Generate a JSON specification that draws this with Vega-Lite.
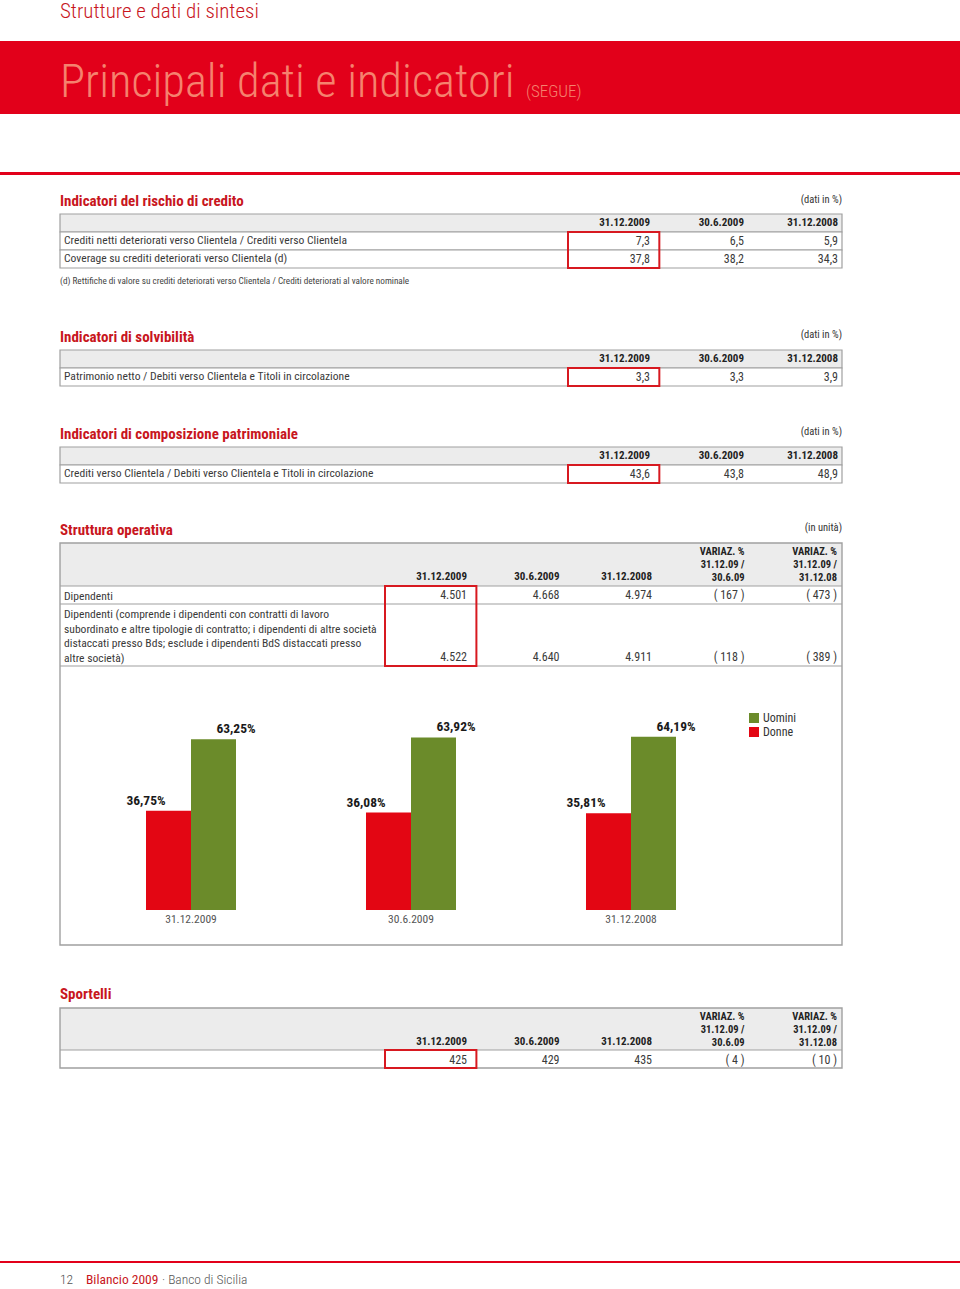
{
"$schema": "https://vega.github.io/schema/vega-lite/v6.json",
"width": 960, "height": 1289, "padding": 0,
"autosize": {"type": "none"},
"background": "#ffffff",
"config": {
  "view": {"stroke": null},
  "locale": {"number": {"decimal": ",", "thousands": ".", "grouping": [3], "currency": ["€", ""]}},
  "text": {"font": "Roboto Condensed", "color": "#333333"}
},
"resolve": {"scale": {"x": "independent", "y": "independent", "xOffset": "independent", "color": "independent"}},
"datasets": {
  "page": [
    {"part": "running", "text": "Strutture e dati di sintesi"},
    {"part": "title", "text": "Principali dati e indicatori"},
    {"part": "segue", "text": "(SEGUE)"},
    {"part": "folio", "text": "12"},
    {"part": "book", "text": "Bilancio 2009"},
    {"part": "publisher", "text": "· Banco di Sicilia"}
  ],
  "periods": [
    {"row": "header", "period": "31.12.2009"},
    {"row": "header", "period": "30.6.2009"},
    {"row": "header", "period": "31.12.2008"}
  ],
  "rischio": [
    {"kind": "title", "row": "title", "text": "Indicatori del rischio di credito"},
    {"kind": "unit", "row": "title", "text": "(dati in %)"},
    {"kind": "header", "row": "header", "text": ""},
    {"kind": "label", "row": "Crediti netti deteriorati verso Clientela / Crediti verso Clientela", "text": "Crediti netti deteriorati verso Clientela / Crediti verso Clientela"},
    {"kind": "label", "row": "Coverage su crediti deteriorati verso Clientela (d)", "text": "Coverage su crediti deteriorati verso Clientela (d)"},
    {"kind": "note", "row": "note", "text": "(d) Rettifiche di valore su crediti deteriorati verso Clientela / Crediti deteriorati al valore nominale"}
  ],
  "rischio_vals": [
    {"row": "Crediti netti deteriorati verso Clientela / Crediti verso Clientela", "period": "31.12.2009", "value": 7.3},
    {"row": "Crediti netti deteriorati verso Clientela / Crediti verso Clientela", "period": "30.6.2009", "value": 6.5},
    {"row": "Crediti netti deteriorati verso Clientela / Crediti verso Clientela", "period": "31.12.2008", "value": 5.9},
    {"row": "Coverage su crediti deteriorati verso Clientela (d)", "period": "31.12.2009", "value": 37.8},
    {"row": "Coverage su crediti deteriorati verso Clientela (d)", "period": "30.6.2009", "value": 38.2},
    {"row": "Coverage su crediti deteriorati verso Clientela (d)", "period": "31.12.2008", "value": 34.3}
  ],
  "solvibilita": [
    {"kind": "title", "row": "title", "text": "Indicatori di solvibilità"},
    {"kind": "unit", "row": "title", "text": "(dati in %)"},
    {"kind": "header", "row": "header", "text": ""},
    {"kind": "label", "row": "Patrimonio netto / Debiti verso Clientela e Titoli in circolazione", "text": "Patrimonio netto / Debiti verso Clientela e Titoli in circolazione"}
  ],
  "solvibilita_vals": [
    {"row": "Patrimonio netto / Debiti verso Clientela e Titoli in circolazione", "period": "31.12.2009", "value": 3.3},
    {"row": "Patrimonio netto / Debiti verso Clientela e Titoli in circolazione", "period": "30.6.2009", "value": 3.3},
    {"row": "Patrimonio netto / Debiti verso Clientela e Titoli in circolazione", "period": "31.12.2008", "value": 3.9}
  ],
  "composizione": [
    {"kind": "title", "row": "title", "text": "Indicatori di composizione patrimoniale"},
    {"kind": "unit", "row": "title", "text": "(dati in %)"},
    {"kind": "header", "row": "header", "text": ""},
    {"kind": "label", "row": "Crediti verso Clientela / Debiti verso Clientela e Titoli in circolazione", "text": "Crediti verso Clientela / Debiti verso Clientela e Titoli in circolazione"}
  ],
  "composizione_vals": [
    {"row": "Crediti verso Clientela / Debiti verso Clientela e Titoli in circolazione", "period": "31.12.2009", "value": 43.6},
    {"row": "Crediti verso Clientela / Debiti verso Clientela e Titoli in circolazione", "period": "30.6.2009", "value": 43.8},
    {"row": "Crediti verso Clientela / Debiti verso Clientela e Titoli in circolazione", "period": "31.12.2008", "value": 48.9}
  ],
  "cols5": [
    {"rowNo": 0, "col": "31.12.2009", "head": "31.12.2009"},
    {"rowNo": 0, "col": "30.6.2009", "head": "30.6.2009"},
    {"rowNo": 0, "col": "31.12.2008", "head": "31.12.2008"},
    {"rowNo": 0, "col": "var. 31.12.09 / 30.6.09", "head": "VARIAZ. %\n31.12.09 /\n30.6.09"},
    {"rowNo": 0, "col": "var. 31.12.09 / 31.12.08", "head": "VARIAZ. %\n31.12.09 /\n31.12.08"}
  ],
  "struttura": [
    {"kind": "title", "text": "Struttura operativa"},
    {"kind": "unit", "text": "(in unità)"},
    {"kind": "header", "rowNo": 0, "text": ""},
    {"kind": "label", "rowNo": 1, "text": "Dipendenti"},
    {"kind": "label", "rowNo": 2, "text": "Dipendenti (comprende i dipendenti con contratti di lavoro\nsubordinato e altre tipologie di contratto; i dipendenti di altre società\ndistaccati presso Bds; esclude i dipendenti BdS distaccati presso\naltre società)"}
  ],
  "struttura_vals": [
    {"rowNo": 1, "col": "31.12.2009", "value": 4501},
    {"rowNo": 1, "col": "30.6.2009", "value": 4668},
    {"rowNo": 1, "col": "31.12.2008", "value": 4974},
    {"rowNo": 1, "col": "var. 31.12.09 / 30.6.09", "value": -167},
    {"rowNo": 1, "col": "var. 31.12.09 / 31.12.08", "value": -473},
    {"rowNo": 2, "col": "31.12.2009", "value": 4522},
    {"rowNo": 2, "col": "30.6.2009", "value": 4640},
    {"rowNo": 2, "col": "31.12.2008", "value": 4911},
    {"rowNo": 2, "col": "var. 31.12.09 / 30.6.09", "value": -118},
    {"rowNo": 2, "col": "var. 31.12.09 / 31.12.08", "value": -389}
  ],
  "staff": [
    {"date": "31.12.2009", "gender": "Uomini", "share": 0.6325},
    {"date": "31.12.2009", "gender": "Donne", "share": 0.3675},
    {"date": "30.6.2009", "gender": "Uomini", "share": 0.6392},
    {"date": "30.6.2009", "gender": "Donne", "share": 0.3608},
    {"date": "31.12.2008", "gender": "Uomini", "share": 0.6419},
    {"date": "31.12.2008", "gender": "Donne", "share": 0.3581}
  ],
  "sportelli": [
    {"kind": "title", "text": "Sportelli"},
    {"kind": "header", "rowNo": 0, "text": ""}
  ],
  "sportelli_vals": [
    {"rowNo": 1, "col": "31.12.2009", "value": 425},
    {"rowNo": 1, "col": "30.6.2009", "value": 429},
    {"rowNo": 1, "col": "31.12.2008", "value": 435},
    {"rowNo": 1, "col": "var. 31.12.09 / 30.6.09", "value": -4},
    {"rowNo": 1, "col": "var. 31.12.09 / 31.12.08", "value": -10}
  ]
},
"layer": [
  {"data": {"name": "page"}, "transform": [{"filter": "datum.part === 'title'"}],
   "mark": {"type": "rect", "fill": "#e2001a"},
   "encoding": {
     "x": {"field": "part", "type": "nominal", "scale": {"type": "band", "range": [0, 960], "paddingInner": 0, "paddingOuter": 0}, "axis": null},
     "y": {"field": "part", "type": "nominal", "scale": {"type": "band", "range": [41, 114], "paddingInner": 0, "paddingOuter": 0}, "axis": null}}},
  {"data": {"name": "page"}, "transform": [{"filter": "datum.part === 'title'"}],
   "mark": {"type": "rect", "fill": "#e2001a"},
   "encoding": {
     "x": {"field": "part", "type": "nominal", "scale": {"type": "band", "range": [0, 960], "paddingInner": 0, "paddingOuter": 0}, "axis": null},
     "y": {"field": "part", "type": "nominal", "scale": {"type": "band", "range": [172, 175], "paddingInner": 0, "paddingOuter": 0}, "axis": null}}},
  {"data": {"name": "page"}, "transform": [{"filter": "datum.part === 'folio'"}],
   "mark": {"type": "rect", "fill": "#e2001a"},
   "encoding": {
     "x": {"field": "part", "type": "nominal", "scale": {"type": "band", "range": [0, 960], "paddingInner": 0, "paddingOuter": 0}, "axis": null},
     "y": {"field": "part", "type": "nominal", "scale": {"type": "band", "range": [1261, 1263], "paddingInner": 0, "paddingOuter": 0}, "axis": null}}},
  {"data": {"name": "page"}, "transform": [{"filter": "datum.part === 'running'"}],
   "mark": {"type": "text", "align": "left", "baseline": "alphabetic", "fontSize": 21, "fontWeight": 300, "color": "#c8161d", "font": "Roboto Condensed"},
   "encoding": {
     "text": {"field": "text"},
     "x": {"field": "part", "type": "nominal", "bandPosition": 0, "scale": {"type": "band", "range": [60, 960], "paddingInner": 0, "paddingOuter": 0}, "axis": null},
     "y": {"field": "part", "type": "nominal", "bandPosition": 0.44, "scale": {"type": "band", "range": [0, 41], "paddingInner": 0, "paddingOuter": 0}, "axis": null}}},
  {"data": {"name": "page"}, "transform": [{"filter": "datum.part === 'title'"}],
   "mark": {"type": "text", "align": "left", "baseline": "alphabetic", "fontSize": 46.5, "fontWeight": 300, "color": "#f5826e", "font": "Roboto Condensed"},
   "encoding": {
     "text": {"field": "text"},
     "x": {"field": "part", "type": "nominal", "bandPosition": 0, "scale": {"type": "band", "range": [60, 960], "paddingInner": 0, "paddingOuter": 0}, "axis": null},
     "y": {"field": "part", "type": "nominal", "bandPosition": 0.767, "scale": {"type": "band", "range": [41, 114], "paddingInner": 0, "paddingOuter": 0}, "axis": null}}},
  {"data": {"name": "page"}, "transform": [{"filter": "datum.part === 'segue'"}],
   "mark": {"type": "text", "align": "left", "baseline": "alphabetic", "fontSize": 17, "fontWeight": 300, "color": "#f5826e", "font": "Roboto Condensed"},
   "encoding": {
     "text": {"field": "text"},
     "x": {"field": "part", "type": "nominal", "bandPosition": 0, "scale": {"type": "band", "range": [526, 960], "paddingInner": 0, "paddingOuter": 0}, "axis": null},
     "y": {"field": "part", "type": "nominal", "bandPosition": 0.767, "scale": {"type": "band", "range": [41, 114], "paddingInner": 0, "paddingOuter": 0}, "axis": null}}},
  {"data": {"name": "page"}, "transform": [{"filter": "datum.part === 'folio'"}],
   "mark": {"type": "text", "align": "left", "baseline": "middle", "fontSize": 13.5, "fontWeight": 300, "color": "#555555", "font": "Roboto Condensed"},
   "encoding": {
     "text": {"field": "text"},
     "x": {"field": "part", "type": "nominal", "bandPosition": 0, "scale": {"type": "band", "range": [60, 960], "paddingInner": 0, "paddingOuter": 0}, "axis": null},
     "y": {"field": "part", "type": "nominal", "bandPosition": 0.5, "scale": {"type": "band", "range": [1270, 1289], "paddingInner": 0, "paddingOuter": 0}, "axis": null}}},
  {"data": {"name": "page"}, "transform": [{"filter": "datum.part === 'book'"}],
   "mark": {"type": "text", "align": "left", "baseline": "middle", "fontSize": 13.5, "fontWeight": 400, "color": "#c8161d", "font": "Roboto Condensed"},
   "encoding": {
     "text": {"field": "text"},
     "x": {"field": "part", "type": "nominal", "bandPosition": 0, "scale": {"type": "band", "range": [86, 960], "paddingInner": 0, "paddingOuter": 0}, "axis": null},
     "y": {"field": "part", "type": "nominal", "bandPosition": 0.5, "scale": {"type": "band", "range": [1270, 1289], "paddingInner": 0, "paddingOuter": 0}, "axis": null}}},
  {"data": {"name": "page"}, "transform": [{"filter": "datum.part === 'publisher'"}],
   "mark": {"type": "text", "align": "left", "baseline": "middle", "fontSize": 13.5, "fontWeight": 300, "color": "#555555", "font": "Roboto Condensed"},
   "encoding": {
     "text": {"field": "text"},
     "x": {"field": "part", "type": "nominal", "bandPosition": 0, "scale": {"type": "band", "range": [162, 960], "paddingInner": 0, "paddingOuter": 0}, "axis": null},
     "y": {"field": "part", "type": "nominal", "bandPosition": 0.5, "scale": {"type": "band", "range": [1270, 1289], "paddingInner": 0, "paddingOuter": 0}, "axis": null}}},

  {"data": {"name": "rischio"}, "transform": [{"filter": "datum.kind === 'header' || datum.kind === 'label'"}],
   "mark": {"type": "rect", "stroke": "#a0a0a0", "strokeWidth": 1.2},
   "encoding": {
     "x": {"datum": 0, "type": "quantitative", "scale": {"domain": [0, 1], "range": [60, 842], "zero": false, "nice": false}, "axis": null},
     "x2": {"datum": 1},
     "y": {"field": "row", "type": "nominal", "scale": {"type": "band", "domain": ["title", "header", "Crediti netti deteriorati verso Clientela / Crediti verso Clientela", "Coverage su crediti deteriorati verso Clientela (d)", "note"], "range": [196, 286], "paddingInner": 0, "paddingOuter": 0}, "axis": null},
     "fill": {"condition": {"test": "datum.kind === 'header'", "value": "#ececec"}, "value": "#ffffff"}}},
  {"data": {"name": "rischio_vals"}, "transform": [{"filter": "datum.period === '31.12.2009'"}, {"aggregate": [{"op": "count", "as": "n"}], "groupby": ["period"]}],
   "mark": {"type": "rect", "fill": "#ffffff", "fillOpacity": 0, "stroke": "#d71920", "strokeWidth": 2},
   "encoding": {
     "x": {"field": "period", "type": "nominal", "scale": {"type": "band", "domain": ["31.12.2009", "30.6.2009", "31.12.2008"], "range": [568, 842], "paddingInner": 0, "paddingOuter": 0}, "axis": null},
     "y": {"field": "period", "type": "nominal", "scale": {"type": "band", "range": [232, 268], "paddingInner": 0, "paddingOuter": 0}, "axis": null}}},
  {"data": {"name": "rischio"}, "transform": [{"filter": "datum.kind === 'title'"}],
   "mark": {"type": "text", "align": "left", "baseline": "middle", "fontSize": 15, "fontWeight": "bold", "color": "#c8161d", "font": "Roboto Condensed"},
   "encoding": {
     "text": {"field": "text"},
     "x": {"datum": 0, "type": "quantitative", "scale": {"domain": [0, 1], "range": [60, 842], "zero": false, "nice": false}, "axis": null},
     "y": {"field": "row", "type": "nominal", "bandPosition": 0.25, "scale": {"type": "band", "domain": ["title", "header", "Crediti netti deteriorati verso Clientela / Crediti verso Clientela", "Coverage su crediti deteriorati verso Clientela (d)", "note"], "range": [196, 286], "paddingInner": 0, "paddingOuter": 0}, "axis": null}}},
  {"data": {"name": "rischio"}, "transform": [{"filter": "datum.kind === 'unit'"}],
   "mark": {"type": "text", "align": "right", "baseline": "middle", "fontSize": 10.5, "color": "#333333", "font": "Roboto Condensed"},
   "encoding": {
     "text": {"field": "text"},
     "x": {"datum": 1, "type": "quantitative", "scale": {"domain": [0, 1], "range": [60, 842], "zero": false, "nice": false}, "axis": null},
     "y": {"field": "row", "type": "nominal", "bandPosition": 0.2, "scale": {"type": "band", "domain": ["title", "header", "Crediti netti deteriorati verso Clientela / Crediti verso Clientela", "Coverage su crediti deteriorati verso Clientela (d)", "note"], "range": [196, 286], "paddingInner": 0, "paddingOuter": 0}, "axis": null}}},
  {"data": {"name": "rischio"}, "transform": [{"filter": "datum.kind === 'label'"}],
   "mark": {"type": "text", "align": "left", "baseline": "middle", "dx": 4, "fontSize": 11.6, "color": "#3a3a3a", "font": "Roboto Condensed"},
   "encoding": {
     "text": {"field": "text"},
     "x": {"datum": 0, "type": "quantitative", "scale": {"domain": [0, 1], "range": [60, 842], "zero": false, "nice": false}, "axis": null},
     "y": {"field": "row", "type": "nominal", "bandPosition": 0.5, "scale": {"type": "band", "domain": ["title", "header", "Crediti netti deteriorati verso Clientela / Crediti verso Clientela", "Coverage su crediti deteriorati verso Clientela (d)", "note"], "range": [196, 286], "paddingInner": 0, "paddingOuter": 0}, "axis": null}}},
  {"data": {"name": "rischio"}, "transform": [{"filter": "datum.kind === 'note'"}],
   "mark": {"type": "text", "align": "left", "baseline": "middle", "fontSize": 9.2, "color": "#444444", "font": "Roboto Condensed"},
   "encoding": {
     "text": {"field": "text"},
     "x": {"datum": 0, "type": "quantitative", "scale": {"domain": [0, 1], "range": [60, 842], "zero": false, "nice": false}, "axis": null},
     "y": {"field": "row", "type": "nominal", "bandPosition": 0.7, "scale": {"type": "band", "domain": ["title", "header", "Crediti netti deteriorati verso Clientela / Crediti verso Clientela", "Coverage su crediti deteriorati verso Clientela (d)", "note"], "range": [196, 286], "paddingInner": 0, "paddingOuter": 0}, "axis": null}}},
  {"data": {"name": "periods"},
   "mark": {"type": "text", "align": "right", "baseline": "middle", "fontSize": 11, "fontWeight": "bold", "color": "#222222", "font": "Roboto Condensed"},
   "encoding": {
     "text": {"field": "period"},
     "x": {"field": "period", "type": "nominal", "scale": {"type": "point", "domain": ["31.12.2009", "30.6.2009", "31.12.2008"], "range": [650, 838], "padding": 0}, "axis": null},
     "y": {"field": "row", "type": "nominal", "bandPosition": 0.5, "scale": {"type": "band", "domain": ["title", "header", "Crediti netti deteriorati verso Clientela / Crediti verso Clientela", "Coverage su crediti deteriorati verso Clientela (d)", "note"], "range": [196, 286], "paddingInner": 0, "paddingOuter": 0}, "axis": null}}},
  {"data": {"name": "rischio_vals"},
   "mark": {"type": "text", "align": "right", "baseline": "middle", "fontSize": 12, "color": "#3a3a3a", "font": "Roboto Condensed"},
   "encoding": {
     "text": {"field": "value", "type": "quantitative", "format": ".1f"},
     "x": {"field": "period", "type": "nominal", "scale": {"type": "point", "domain": ["31.12.2009", "30.6.2009", "31.12.2008"], "range": [650, 838], "padding": 0}, "axis": null},
     "y": {"field": "row", "type": "nominal", "bandPosition": 0.5, "scale": {"type": "band", "domain": ["title", "header", "Crediti netti deteriorati verso Clientela / Crediti verso Clientela", "Coverage su crediti deteriorati verso Clientela (d)", "note"], "range": [196, 286], "paddingInner": 0, "paddingOuter": 0}, "axis": null}}},

  {"data": {"name": "solvibilita"}, "transform": [{"filter": "datum.kind === 'header' || datum.kind === 'label'"}],
   "mark": {"type": "rect", "stroke": "#a0a0a0", "strokeWidth": 1.2},
   "encoding": {
     "x": {"datum": 0, "type": "quantitative", "scale": {"domain": [0, 1], "range": [60, 842], "zero": false, "nice": false}, "axis": null},
     "x2": {"datum": 1},
     "y": {"field": "row", "type": "nominal", "scale": {"type": "band", "domain": ["title", "header", "Patrimonio netto / Debiti verso Clientela e Titoli in circolazione"], "range": [332, 386], "paddingInner": 0, "paddingOuter": 0}, "axis": null},
     "fill": {"condition": {"test": "datum.kind === 'header'", "value": "#ececec"}, "value": "#ffffff"}}},
  {"data": {"name": "solvibilita_vals"}, "transform": [{"filter": "datum.period === '31.12.2009'"}, {"aggregate": [{"op": "count", "as": "n"}], "groupby": ["period"]}],
   "mark": {"type": "rect", "fill": "#ffffff", "fillOpacity": 0, "stroke": "#d71920", "strokeWidth": 2},
   "encoding": {
     "x": {"field": "period", "type": "nominal", "scale": {"type": "band", "domain": ["31.12.2009", "30.6.2009", "31.12.2008"], "range": [568, 842], "paddingInner": 0, "paddingOuter": 0}, "axis": null},
     "y": {"field": "period", "type": "nominal", "scale": {"type": "band", "range": [368, 386], "paddingInner": 0, "paddingOuter": 0}, "axis": null}}},
  {"data": {"name": "solvibilita"}, "transform": [{"filter": "datum.kind === 'title'"}],
   "mark": {"type": "text", "align": "left", "baseline": "middle", "fontSize": 15, "fontWeight": "bold", "color": "#c8161d", "font": "Roboto Condensed"},
   "encoding": {
     "text": {"field": "text"},
     "x": {"datum": 0, "type": "quantitative", "scale": {"domain": [0, 1], "range": [60, 842], "zero": false, "nice": false}, "axis": null},
     "y": {"field": "row", "type": "nominal", "bandPosition": 0.25, "scale": {"type": "band", "domain": ["title", "header", "Patrimonio netto / Debiti verso Clientela e Titoli in circolazione"], "range": [332, 386], "paddingInner": 0, "paddingOuter": 0}, "axis": null}}},
  {"data": {"name": "solvibilita"}, "transform": [{"filter": "datum.kind === 'unit'"}],
   "mark": {"type": "text", "align": "right", "baseline": "middle", "fontSize": 10.5, "color": "#333333", "font": "Roboto Condensed"},
   "encoding": {
     "text": {"field": "text"},
     "x": {"datum": 1, "type": "quantitative", "scale": {"domain": [0, 1], "range": [60, 842], "zero": false, "nice": false}, "axis": null},
     "y": {"field": "row", "type": "nominal", "bandPosition": 0.15, "scale": {"type": "band", "domain": ["title", "header", "Patrimonio netto / Debiti verso Clientela e Titoli in circolazione"], "range": [332, 386], "paddingInner": 0, "paddingOuter": 0}, "axis": null}}},
  {"data": {"name": "solvibilita"}, "transform": [{"filter": "datum.kind === 'label'"}],
   "mark": {"type": "text", "align": "left", "baseline": "middle", "dx": 4, "fontSize": 11.6, "color": "#3a3a3a", "font": "Roboto Condensed"},
   "encoding": {
     "text": {"field": "text"},
     "x": {"datum": 0, "type": "quantitative", "scale": {"domain": [0, 1], "range": [60, 842], "zero": false, "nice": false}, "axis": null},
     "y": {"field": "row", "type": "nominal", "bandPosition": 0.5, "scale": {"type": "band", "domain": ["title", "header", "Patrimonio netto / Debiti verso Clientela e Titoli in circolazione"], "range": [332, 386], "paddingInner": 0, "paddingOuter": 0}, "axis": null}}},
  {"data": {"name": "periods"},
   "mark": {"type": "text", "align": "right", "baseline": "middle", "fontSize": 11, "fontWeight": "bold", "color": "#222222", "font": "Roboto Condensed"},
   "encoding": {
     "text": {"field": "period"},
     "x": {"field": "period", "type": "nominal", "scale": {"type": "point", "domain": ["31.12.2009", "30.6.2009", "31.12.2008"], "range": [650, 838], "padding": 0}, "axis": null},
     "y": {"field": "row", "type": "nominal", "bandPosition": 0.5, "scale": {"type": "band", "domain": ["title", "header", "Patrimonio netto / Debiti verso Clientela e Titoli in circolazione"], "range": [332, 386], "paddingInner": 0, "paddingOuter": 0}, "axis": null}}},
  {"data": {"name": "solvibilita_vals"},
   "mark": {"type": "text", "align": "right", "baseline": "middle", "fontSize": 12, "color": "#3a3a3a", "font": "Roboto Condensed"},
   "encoding": {
     "text": {"field": "value", "type": "quantitative", "format": ".1f"},
     "x": {"field": "period", "type": "nominal", "scale": {"type": "point", "domain": ["31.12.2009", "30.6.2009", "31.12.2008"], "range": [650, 838], "padding": 0}, "axis": null},
     "y": {"field": "row", "type": "nominal", "bandPosition": 0.5, "scale": {"type": "band", "domain": ["title", "header", "Patrimonio netto / Debiti verso Clientela e Titoli in circolazione"], "range": [332, 386], "paddingInner": 0, "paddingOuter": 0}, "axis": null}}},

  {"data": {"name": "composizione"}, "transform": [{"filter": "datum.kind === 'header' || datum.kind === 'label'"}],
   "mark": {"type": "rect", "stroke": "#a0a0a0", "strokeWidth": 1.2},
   "encoding": {
     "x": {"datum": 0, "type": "quantitative", "scale": {"domain": [0, 1], "range": [60, 842], "zero": false, "nice": false}, "axis": null},
     "x2": {"datum": 1},
     "y": {"field": "row", "type": "nominal", "scale": {"type": "band", "domain": ["title", "header", "Crediti verso Clientela / Debiti verso Clientela e Titoli in circolazione"], "range": [429, 483], "paddingInner": 0, "paddingOuter": 0}, "axis": null},
     "fill": {"condition": {"test": "datum.kind === 'header'", "value": "#ececec"}, "value": "#ffffff"}}},
  {"data": {"name": "composizione_vals"}, "transform": [{"filter": "datum.period === '31.12.2009'"}, {"aggregate": [{"op": "count", "as": "n"}], "groupby": ["period"]}],
   "mark": {"type": "rect", "fill": "#ffffff", "fillOpacity": 0, "stroke": "#d71920", "strokeWidth": 2},
   "encoding": {
     "x": {"field": "period", "type": "nominal", "scale": {"type": "band", "domain": ["31.12.2009", "30.6.2009", "31.12.2008"], "range": [568, 842], "paddingInner": 0, "paddingOuter": 0}, "axis": null},
     "y": {"field": "period", "type": "nominal", "scale": {"type": "band", "range": [465, 483], "paddingInner": 0, "paddingOuter": 0}, "axis": null}}},
  {"data": {"name": "composizione"}, "transform": [{"filter": "datum.kind === 'title'"}],
   "mark": {"type": "text", "align": "left", "baseline": "middle", "fontSize": 15, "fontWeight": "bold", "color": "#c8161d", "font": "Roboto Condensed"},
   "encoding": {
     "text": {"field": "text"},
     "x": {"datum": 0, "type": "quantitative", "scale": {"domain": [0, 1], "range": [60, 842], "zero": false, "nice": false}, "axis": null},
     "y": {"field": "row", "type": "nominal", "bandPosition": 0.25, "scale": {"type": "band", "domain": ["title", "header", "Crediti verso Clientela / Debiti verso Clientela e Titoli in circolazione"], "range": [429, 483], "paddingInner": 0, "paddingOuter": 0}, "axis": null}}},
  {"data": {"name": "composizione"}, "transform": [{"filter": "datum.kind === 'unit'"}],
   "mark": {"type": "text", "align": "right", "baseline": "middle", "fontSize": 10.5, "color": "#333333", "font": "Roboto Condensed"},
   "encoding": {
     "text": {"field": "text"},
     "x": {"datum": 1, "type": "quantitative", "scale": {"domain": [0, 1], "range": [60, 842], "zero": false, "nice": false}, "axis": null},
     "y": {"field": "row", "type": "nominal", "bandPosition": 0.15, "scale": {"type": "band", "domain": ["title", "header", "Crediti verso Clientela / Debiti verso Clientela e Titoli in circolazione"], "range": [429, 483], "paddingInner": 0, "paddingOuter": 0}, "axis": null}}},
  {"data": {"name": "composizione"}, "transform": [{"filter": "datum.kind === 'label'"}],
   "mark": {"type": "text", "align": "left", "baseline": "middle", "dx": 4, "fontSize": 11.6, "color": "#3a3a3a", "font": "Roboto Condensed"},
   "encoding": {
     "text": {"field": "text"},
     "x": {"datum": 0, "type": "quantitative", "scale": {"domain": [0, 1], "range": [60, 842], "zero": false, "nice": false}, "axis": null},
     "y": {"field": "row", "type": "nominal", "bandPosition": 0.5, "scale": {"type": "band", "domain": ["title", "header", "Crediti verso Clientela / Debiti verso Clientela e Titoli in circolazione"], "range": [429, 483], "paddingInner": 0, "paddingOuter": 0}, "axis": null}}},
  {"data": {"name": "periods"},
   "mark": {"type": "text", "align": "right", "baseline": "middle", "fontSize": 11, "fontWeight": "bold", "color": "#222222", "font": "Roboto Condensed"},
   "encoding": {
     "text": {"field": "period"},
     "x": {"field": "period", "type": "nominal", "scale": {"type": "point", "domain": ["31.12.2009", "30.6.2009", "31.12.2008"], "range": [650, 838], "padding": 0}, "axis": null},
     "y": {"field": "row", "type": "nominal", "bandPosition": 0.5, "scale": {"type": "band", "domain": ["title", "header", "Crediti verso Clientela / Debiti verso Clientela e Titoli in circolazione"], "range": [429, 483], "paddingInner": 0, "paddingOuter": 0}, "axis": null}}},
  {"data": {"name": "composizione_vals"},
   "mark": {"type": "text", "align": "right", "baseline": "middle", "fontSize": 12, "color": "#3a3a3a", "font": "Roboto Condensed"},
   "encoding": {
     "text": {"field": "value", "type": "quantitative", "format": ".1f"},
     "x": {"field": "period", "type": "nominal", "scale": {"type": "point", "domain": ["31.12.2009", "30.6.2009", "31.12.2008"], "range": [650, 838], "padding": 0}, "axis": null},
     "y": {"field": "row", "type": "nominal", "bandPosition": 0.5, "scale": {"type": "band", "domain": ["title", "header", "Crediti verso Clientela / Debiti verso Clientela e Titoli in circolazione"], "range": [429, 483], "paddingInner": 0, "paddingOuter": 0}, "axis": null}}},

  {"data": {"name": "struttura"}, "transform": [{"filter": "datum.kind === 'header'"}],
   "mark": {"type": "rect", "fill": "#ececec"},
   "encoding": {
     "x": {"datum": 0, "type": "quantitative", "scale": {"domain": [0, 1], "range": [60, 842], "zero": false, "nice": false}, "axis": null},
     "x2": {"datum": 1},
     "y": {"datum": 0, "type": "quantitative", "scale": {"domain": [0, 1, 2, 3, 4], "range": [543, 586, 604, 666, 945], "zero": false, "nice": false}, "axis": null},
     "y2": {"datum": 1}}},
  {"data": {"name": "struttura"}, "transform": [{"filter": "datum.kind === 'header'"}],
   "mark": {"type": "rect", "fill": "#ffffff", "fillOpacity": 0, "stroke": "#a0a0a0", "strokeWidth": 1.4},
   "encoding": {
     "x": {"datum": 0, "type": "quantitative", "scale": {"domain": [0, 1], "range": [60, 842], "zero": false, "nice": false}, "axis": null},
     "x2": {"datum": 1},
     "y": {"datum": 0, "type": "quantitative", "scale": {"domain": [0, 1, 2, 3, 4], "range": [543, 586, 604, 666, 945], "zero": false, "nice": false}, "axis": null},
     "y2": {"datum": 4}}},
  {"data": {"name": "struttura"}, "transform": [{"filter": "datum.kind === 'header' || datum.kind === 'label'"}],
   "mark": {"type": "rule", "stroke": "#a0a0a0", "strokeWidth": 1.2},
   "encoding": {
     "x": {"datum": 0, "type": "quantitative", "scale": {"domain": [0, 1], "range": [60, 842], "zero": false, "nice": false}, "axis": null},
     "x2": {"datum": 1},
     "y": {"field": "rowNo", "type": "quantitative", "scale": {"domain": [0, 1, 2], "range": [586, 604, 666], "zero": false, "nice": false}, "axis": null}}},
  {"data": {"name": "struttura_vals"}, "transform": [{"filter": "datum.col === '31.12.2009'"}, {"aggregate": [{"op": "count", "as": "n"}], "groupby": ["col"]}],
   "mark": {"type": "rect", "fill": "#ffffff", "fillOpacity": 0, "stroke": "#d71920", "strokeWidth": 2},
   "encoding": {
     "x": {"field": "col", "type": "nominal", "scale": {"type": "band", "domain": ["31.12.2009", "30.6.2009", "31.12.2008", "var. 31.12.09 / 30.6.09", "var. 31.12.09 / 31.12.08"], "range": [385, 842], "paddingInner": 0, "paddingOuter": 0}, "axis": null},
     "y": {"field": "col", "type": "nominal", "scale": {"type": "band", "range": [586, 666], "paddingInner": 0, "paddingOuter": 0}, "axis": null}}},
  {"data": {"name": "struttura"}, "transform": [{"filter": "datum.kind === 'title'"}],
   "mark": {"type": "text", "align": "left", "baseline": "middle", "fontSize": 15, "fontWeight": "bold", "color": "#c8161d", "font": "Roboto Condensed"},
   "encoding": {
     "text": {"field": "text"},
     "x": {"datum": 0, "type": "quantitative", "scale": {"domain": [0, 1], "range": [60, 842], "zero": false, "nice": false}, "axis": null},
     "y": {"field": "kind", "type": "nominal", "bandPosition": 0.5, "scale": {"type": "band", "range": [521, 539], "paddingInner": 0, "paddingOuter": 0}, "axis": null}}},
  {"data": {"name": "struttura"}, "transform": [{"filter": "datum.kind === 'unit'"}],
   "mark": {"type": "text", "align": "right", "baseline": "middle", "fontSize": 10.5, "color": "#333333", "font": "Roboto Condensed"},
   "encoding": {
     "text": {"field": "text"},
     "x": {"datum": 1, "type": "quantitative", "scale": {"domain": [0, 1], "range": [60, 842], "zero": false, "nice": false}, "axis": null},
     "y": {"field": "kind", "type": "nominal", "bandPosition": 0.5, "scale": {"type": "band", "range": [519, 537], "paddingInner": 0, "paddingOuter": 0}, "axis": null}}},
  {"data": {"name": "struttura"}, "transform": [{"filter": "datum.kind === 'label'"}],
   "mark": {"type": "text", "align": "left", "baseline": "top", "dx": 4, "fontSize": 11.6, "lineBreak": "\n", "lineHeight": 14.7, "color": "#3a3a3a", "font": "Roboto Condensed"},
   "encoding": {
     "text": {"field": "text"},
     "x": {"datum": 0, "type": "quantitative", "scale": {"domain": [0, 1], "range": [60, 842], "zero": false, "nice": false}, "axis": null},
     "y": {"field": "rowNo", "type": "quantitative", "scale": {"domain": [1, 2], "range": [590.5, 609], "zero": false, "nice": false}, "axis": null}}},
  {"data": {"name": "cols5"}, "transform": [{"filter": "indexof(datum.head, '\\n') >= 0"}],
   "mark": {"type": "text", "align": "right", "baseline": "top", "fontSize": 10.5, "fontWeight": "bold", "lineBreak": "\n", "lineHeight": 13, "color": "#222222", "font": "Roboto Condensed"},
   "encoding": {
     "text": {"field": "head"},
     "x": {"field": "col", "type": "nominal", "scale": {"type": "point", "domain": ["31.12.2009", "30.6.2009", "31.12.2008", "var. 31.12.09 / 30.6.09", "var. 31.12.09 / 31.12.08"], "range": [467, 837], "padding": 0}, "axis": null},
     "y": {"field": "rowNo", "type": "quantitative", "scale": {"domain": [0, 1], "range": [546.5, 547.5], "zero": false, "nice": false}, "axis": null}}},
  {"data": {"name": "cols5"}, "transform": [{"filter": "indexof(datum.head, '\\n') < 0"}],
   "mark": {"type": "text", "align": "right", "baseline": "middle", "fontSize": 11, "fontWeight": "bold", "color": "#222222", "font": "Roboto Condensed"},
   "encoding": {
     "text": {"field": "head"},
     "x": {"field": "col", "type": "nominal", "scale": {"type": "point", "domain": ["31.12.2009", "30.6.2009", "31.12.2008", "var. 31.12.09 / 30.6.09", "var. 31.12.09 / 31.12.08"], "range": [467, 837], "padding": 0}, "axis": null},
     "y": {"field": "rowNo", "type": "quantitative", "scale": {"domain": [0, 1], "range": [577, 578], "zero": false, "nice": false}, "axis": null}}},
  {"data": {"name": "struttura_vals"},
   "mark": {"type": "text", "align": "right", "baseline": "middle", "fontSize": 12, "color": "#3a3a3a", "font": "Roboto Condensed",
            "text": {"expr": "datum.value < 0 ? '( ' + format(-datum.value, ',d') + ' )' : format(datum.value, ',d')"}},
   "encoding": {
     "x": {"field": "col", "type": "nominal", "scale": {"type": "point", "domain": ["31.12.2009", "30.6.2009", "31.12.2008", "var. 31.12.09 / 30.6.09", "var. 31.12.09 / 31.12.08"], "range": [467, 837], "padding": 0}, "axis": null},
     "y": {"field": "rowNo", "type": "quantitative", "scale": {"domain": [1, 2], "range": [595, 657], "zero": false, "nice": false}, "axis": null}}},

  {"data": {"name": "staff"},
   "mark": {"type": "bar"},
   "encoding": {
     "x": {"field": "date", "type": "nominal", "scale": {"type": "band", "domain": ["31.12.2009", "30.6.2009", "31.12.2008"], "range": [146, 676], "paddingInner": 0.5909, "paddingOuter": 0}, "axis": null},
     "xOffset": {"field": "gender", "type": "nominal", "scale": {"domain": ["Donne", "Uomini"], "paddingInner": 0, "paddingOuter": 0}},
     "y": {"field": "share", "type": "quantitative", "scale": {"domain": [0, 1], "range": [910, 640], "nice": false}, "axis": null},
     "color": {"field": "gender", "type": "nominal", "scale": {"domain": ["Uomini", "Donne"], "range": ["#6b8b2a", "#e30613"]},
       "legend": {"title": null, "orient": "none", "legendX": 748, "legendY": 712, "symbolType": "square", "symbolSize": 100, "symbolStrokeWidth": 0, "labelFont": "Roboto Condensed", "labelFontSize": 12, "labelColor": "#333333", "rowPadding": 2, "labelOffset": 3, "padding": 0}}}},
  {"data": {"name": "staff"},
   "mark": {"type": "text", "baseline": "bottom", "dy": -3, "fontSize": 13.5, "fontWeight": "bold", "color": "#1a1a1a", "font": "Roboto Condensed"},
   "encoding": {
     "text": {"field": "share", "type": "quantitative", "format": ".2%"},
     "x": {"field": "date", "type": "nominal", "scale": {"type": "band", "domain": ["31.12.2009", "30.6.2009", "31.12.2008"], "range": [146, 676], "paddingInner": 0.5909, "paddingOuter": 0}, "axis": null},
     "xOffset": {"field": "gender", "type": "nominal", "scale": {"domain": ["Donne", "Uomini"], "paddingInner": 0, "paddingOuter": 0}},
     "y": {"field": "share", "type": "quantitative", "scale": {"domain": [0, 1], "range": [910, 640], "nice": false}, "axis": null}}},
  {"data": {"name": "staff"}, "transform": [{"aggregate": [{"op": "count", "as": "n"}], "groupby": ["date"]}],
   "mark": {"type": "text", "baseline": "top", "dy": 4, "fontSize": 11.5, "color": "#555555", "font": "Roboto Condensed"},
   "encoding": {
     "text": {"field": "date"},
     "x": {"field": "date", "type": "nominal", "bandPosition": 0.5, "scale": {"type": "band", "domain": ["31.12.2009", "30.6.2009", "31.12.2008"], "range": [146, 676], "paddingInner": 0.5909, "paddingOuter": 0}, "axis": null},
     "y": {"datum": 0, "type": "quantitative", "scale": {"domain": [0, 1], "range": [910, 640], "zero": false, "nice": false}, "axis": null}}},

  {"data": {"name": "sportelli"}, "transform": [{"filter": "datum.kind === 'header'"}],
   "mark": {"type": "rect", "fill": "#ececec"},
   "encoding": {
     "x": {"datum": 0, "type": "quantitative", "scale": {"domain": [0, 1], "range": [60, 842], "zero": false, "nice": false}, "axis": null},
     "x2": {"datum": 1},
     "y": {"datum": 0, "type": "quantitative", "scale": {"domain": [0, 1, 2], "range": [1008, 1050, 1068], "zero": false, "nice": false}, "axis": null},
     "y2": {"datum": 1}}},
  {"data": {"name": "sportelli"}, "transform": [{"filter": "datum.kind === 'header'"}],
   "mark": {"type": "rect", "fill": "#ffffff", "fillOpacity": 0, "stroke": "#a0a0a0", "strokeWidth": 1.4},
   "encoding": {
     "x": {"datum": 0, "type": "quantitative", "scale": {"domain": [0, 1], "range": [60, 842], "zero": false, "nice": false}, "axis": null},
     "x2": {"datum": 1},
     "y": {"datum": 0, "type": "quantitative", "scale": {"domain": [0, 1, 2], "range": [1008, 1050, 1068], "zero": false, "nice": false}, "axis": null},
     "y2": {"datum": 2}}},
  {"data": {"name": "sportelli"}, "transform": [{"filter": "datum.kind === 'header'"}],
   "mark": {"type": "rule", "stroke": "#a0a0a0", "strokeWidth": 1.2},
   "encoding": {
     "x": {"datum": 0, "type": "quantitative", "scale": {"domain": [0, 1], "range": [60, 842], "zero": false, "nice": false}, "axis": null},
     "x2": {"datum": 1},
     "y": {"field": "rowNo", "type": "quantitative", "scale": {"domain": [0, 1], "range": [1050, 1068], "zero": false, "nice": false}, "axis": null}}},
  {"data": {"name": "sportelli_vals"}, "transform": [{"filter": "datum.col === '31.12.2009'"}, {"aggregate": [{"op": "count", "as": "n"}], "groupby": ["col"]}],
   "mark": {"type": "rect", "fill": "#ffffff", "fillOpacity": 0, "stroke": "#d71920", "strokeWidth": 2},
   "encoding": {
     "x": {"field": "col", "type": "nominal", "scale": {"type": "band", "domain": ["31.12.2009", "30.6.2009", "31.12.2008", "var. 31.12.09 / 30.6.09", "var. 31.12.09 / 31.12.08"], "range": [385, 842], "paddingInner": 0, "paddingOuter": 0}, "axis": null},
     "y": {"field": "col", "type": "nominal", "scale": {"type": "band", "range": [1050, 1068], "paddingInner": 0, "paddingOuter": 0}, "axis": null}}},
  {"data": {"name": "sportelli"}, "transform": [{"filter": "datum.kind === 'title'"}],
   "mark": {"type": "text", "align": "left", "baseline": "middle", "fontSize": 15, "fontWeight": "bold", "color": "#c8161d", "font": "Roboto Condensed"},
   "encoding": {
     "text": {"field": "text"},
     "x": {"datum": 0, "type": "quantitative", "scale": {"domain": [0, 1], "range": [60, 842], "zero": false, "nice": false}, "axis": null},
     "y": {"field": "kind", "type": "nominal", "bandPosition": 0.5, "scale": {"type": "band", "range": [985, 1003], "paddingInner": 0, "paddingOuter": 0}, "axis": null}}},
  {"data": {"name": "cols5"}, "transform": [{"filter": "indexof(datum.head, '\\n') >= 0"}],
   "mark": {"type": "text", "align": "right", "baseline": "top", "fontSize": 10.5, "fontWeight": "bold", "lineBreak": "\n", "lineHeight": 13, "color": "#222222", "font": "Roboto Condensed"},
   "encoding": {
     "text": {"field": "head"},
     "x": {"field": "col", "type": "nominal", "scale": {"type": "point", "domain": ["31.12.2009", "30.6.2009", "31.12.2008", "var. 31.12.09 / 30.6.09", "var. 31.12.09 / 31.12.08"], "range": [467, 837], "padding": 0}, "axis": null},
     "y": {"field": "rowNo", "type": "quantitative", "scale": {"domain": [0, 1], "range": [1011.5, 1012.5], "zero": false, "nice": false}, "axis": null}}},
  {"data": {"name": "cols5"}, "transform": [{"filter": "indexof(datum.head, '\\n') < 0"}],
   "mark": {"type": "text", "align": "right", "baseline": "middle", "fontSize": 11, "fontWeight": "bold", "color": "#222222", "font": "Roboto Condensed"},
   "encoding": {
     "text": {"field": "head"},
     "x": {"field": "col", "type": "nominal", "scale": {"type": "point", "domain": ["31.12.2009", "30.6.2009", "31.12.2008", "var. 31.12.09 / 30.6.09", "var. 31.12.09 / 31.12.08"], "range": [467, 837], "padding": 0}, "axis": null},
     "y": {"field": "rowNo", "type": "quantitative", "scale": {"domain": [0, 1], "range": [1042, 1043], "zero": false, "nice": false}, "axis": null}}},
  {"data": {"name": "sportelli_vals"},
   "mark": {"type": "text", "align": "right", "baseline": "middle", "fontSize": 12, "color": "#3a3a3a", "font": "Roboto Condensed",
            "text": {"expr": "datum.value < 0 ? '( ' + format(-datum.value, ',d') + ' )' : format(datum.value, ',d')"}},
   "encoding": {
     "x": {"field": "col", "type": "nominal", "scale": {"type": "point", "domain": ["31.12.2009", "30.6.2009", "31.12.2008", "var. 31.12.09 / 30.6.09", "var. 31.12.09 / 31.12.08"], "range": [467, 837], "padding": 0}, "axis": null},
     "y": {"field": "rowNo", "type": "quantitative", "scale": {"domain": [1, 2], "range": [1060, 1078], "zero": false, "nice": false}, "axis": null}}}
]
}
